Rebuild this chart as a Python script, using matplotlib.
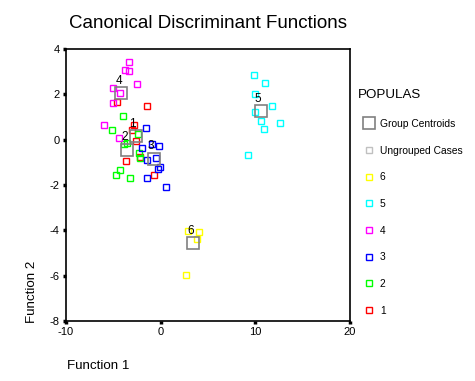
import matplotlib.pyplot as plt
from matplotlib.lines import Line2D

# discriminant scores per population (Function 1, Function 2)
pop1_x = [-4.59, -1.42, -2.86, -3.0, -2.65, -2.16, -3.64, -0.69]
pop1_y = [1.66, 1.49, 0.66, 0.41, -0.06, -0.78, -0.94, -1.55]
pop2_x = [-3.95, -5.12, -2.37, -3.91, -3.6, -2.3, -2.19, -4.27, -4.69, -3.22]
pop2_y = [1.04, 0.44, 0.26, -0.18, -0.15, -0.59, -0.81, -1.36, -1.54, -1.71]
pop3_x = [-1.53, -1.95, -0.9, -0.16, -1.42, -0.47, -0.05, -0.26, -1.42, 0.58]
pop3_y = [0.51, -0.35, -0.19, -0.28, -0.88, -0.79, -1.19, -1.29, -1.67, -2.11]
pop4_x = [-3.32, -3.74, -3.39, -2.48, -5.0, -4.27, -5.0, -6.02, -4.38]
pop4_y = [3.42, 3.08, 3.02, 2.46, 2.29, 2.05, 1.63, 0.64, 0.09]
pop5_x = [9.86, 11.02, 9.97, 11.76, 9.97, 10.6, 12.6, 10.92, 9.23]
pop5_y = [2.84, 2.49, 2.01, 1.49, 1.22, 0.84, 0.75, 0.47, -0.67]
pop6_x = [2.94, 4.0, 3.85, 2.69]
pop6_y = [-4.03, -4.06, -4.37, -5.95]

centroid_lab = ['1', '2', '3', '4', '5', '6']
centroid_x = [-2.65, -3.53, -0.75, -4.16, 10.57, 3.43]
centroid_y = [0.15, -0.44, -0.84, 2.05, 1.26, -4.58]

groups = [
    (pop1_x, pop1_y, '#ff0000'),
    (pop2_x, pop2_y, '#00ff00'),
    (pop3_x, pop3_y, '#0000ff'),
    (pop4_x, pop4_y, '#ff00ff'),
    (pop5_x, pop5_y, '#00ffff'),
    (pop6_x, pop6_y, '#ffff00'),
]

plt.rcParams['font.family'] = ['Liberation Sans', 'DejaVu Sans']
plt.rcParams['axes.unicode_minus'] = False

fig = plt.figure(figsize=(4.75, 3.81), dpi=100)
ax = fig.add_axes([66/475, 60/381, 284/475, 272/381])

for gx, gy, c in groups:
    ax.plot(gx, gy, 's', ms=4.2, mfc='none', mec=c, mew=1.0, ls='none')

ax.plot(centroid_x, centroid_y, 's', ms=8, mfc='none', mec='#808080', mew=1.2, ls='none')
for lab, cx, cy in zip(centroid_lab, centroid_x, centroid_y):
    ax.annotate(lab, (cx, cy), xytext=(-2, 9), textcoords='offset points',
                ha='center', va='center', fontsize=8.5)

ax.set_xlim(-10, 20)
ax.set_ylim(-8, 4)
ax.set_xticks([-10, 0, 10, 20])
ax.set_yticks([-8, -6, -4, -2, 0, 2, 4])
ax.tick_params(direction='out', length=2.5, width=2.5, labelsize=8, pad=2)
for s in ax.spines.values():
    s.set_linewidth(1.2)

fig.text(208/475, 1 - 24/381, 'Canonical Discriminant Functions', ha='center', va='center', fontsize=13.5)
fig.text(67/475, 1 - 366/381, 'Function 1', ha='left', va='center', fontsize=9.6)
fig.text(32/475, 1 - 292/381, 'Function 2', ha='center', va='center', fontsize=9.6, rotation=90)
fig.text(358/475, 1 - 95/381, 'POPULAS', ha='left', va='center', fontsize=9.6)

handles = [Line2D([], [], marker='s', ms=8, mfc='none', mec='#808080', mew=1.2, ls='none'),
           Line2D([], [], marker='s', ms=4.2, mfc='none', mec='#c0c0c0', mew=1.0, ls='none')]
labels = ['Group Centroids', 'Ungrouped Cases']
for i in [5, 4, 3, 2, 1, 0]:
    handles.append(Line2D([], [], marker='s', ms=4.2, mfc='none', mec=groups[i][2], mew=1.0, ls='none'))
    labels.append(str(i + 1))

leg = fig.legend(handles, labels, loc='upper left',
                 bbox_to_anchor=(365/475, 1 - 119/381), frameon=False,
                 fontsize=7.4, labelspacing=1.62, borderpad=0,
                 handlelength=0.85, handletextpad=0.6, borderaxespad=0)

fig.savefig('out.png', dpi=100)
